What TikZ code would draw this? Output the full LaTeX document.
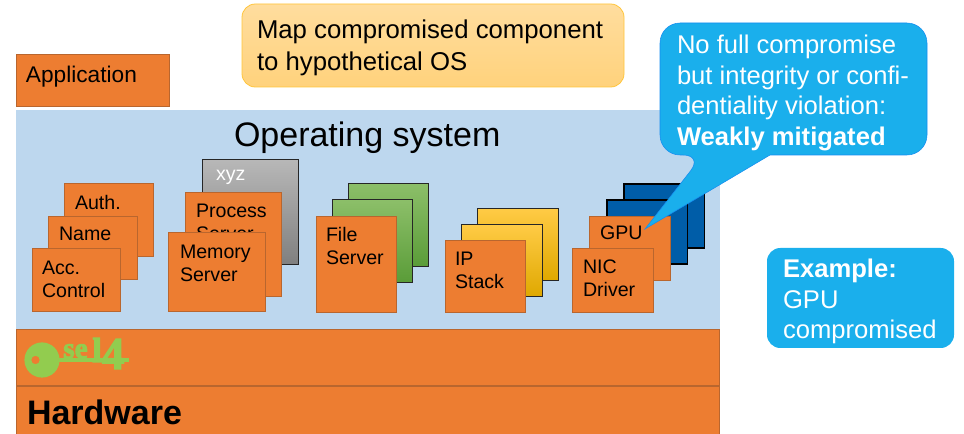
\documentclass[tikz,border=0pt]{standalone}
\usepackage{fontspec}
\setmainfont{Liberation Sans}
\newfontfamily\logofont[BoldFeatures={FakeBold=3}]{Liberation Serif}
\definecolor{orangefill}{HTML}{ED7D31}
\definecolor{orangeline}{HTML}{B9662E}
\definecolor{osblue}{HTML}{BDD7EE}
\definecolor{calloutblue}{HTML}{1AAFEC}
\definecolor{keygreen}{HTML}{92CC4F}
\definecolor{deepblue}{HTML}{005DA8}
\definecolor{goaltop}{HTML}{FFDD9E}
\definecolor{goalbottom}{HTML}{FFD27C}
\definecolor{goalline}{HTML}{FFC53A}
\definecolor{greentop}{HTML}{8CBF69}
\definecolor{greenbottom}{HTML}{5A9C38}
\definecolor{ambertop}{HTML}{FFCB45}
\definecolor{ambermid}{HTML}{FFC000}
\definecolor{amberbottom}{HTML}{DFA800}
\tikzset{
  x=0.75pt,y=-0.75pt,
  box/.style={anchor=north west,inner sep=0pt,outer sep=0pt,line width=1.1pt},
  orangebox/.style={box,fill=orangefill,draw=orangeline},
  xyzbox/.style={box,top color=black!28,bottom color=black!50,draw=black!85},
  greenbox/.style={box,top color=greentop,bottom color=greenbottom,draw=black!85},
  yellowbox/.style={box,top color=ambertop,middle color=ambermid,bottom color=amberbottom,draw=black!85},
  bluebox/.style={box,fill=deepblue,draw=black,line width=1.3pt},
  lbl/.style={anchor=north west,inner sep=0pt,outer sep=0pt,align=left,font=\fontsize{14.7}{17.2}\selectfont},
  whitelbl/.style={lbl,text=white,font=\fontsize{19.2}{22.9}\selectfont},
}
\newcommand{\bx}[6]{\node[#1,minimum width=#5*0.75pt-#3*0.75pt-1pt,minimum height=#6*0.75pt-#4*0.75pt-1pt] (#2) at (#3+0.7,#4+0.7) {};}
\begin{document}
\begin{tikzpicture}
\useasboundingbox (0,0) rectangle (964,434);
\begin{scope}
\clip (0,0) rectangle (964,434);
% top
\node[box,minimum width=286.5pt,minimum height=62.25pt,rounded corners=10pt,top color=goaltop,bottom color=goalbottom,draw=goalline,line width=0.6pt] (goal) at (242,4) {};
\node[lbl,font=\fontsize{19.3}{23.6}\selectfont] (goaltext) at (257,20) {Map compromised component\\to hypothetical OS};
\bx{orangebox}{app}{16}{54}{170}{107}
\node[lbl,font=\fontsize{17}{20}\selectfont] (apptext) at (26,66) {Application};
% os
\node[box,fill=osblue,minimum width=528pt,minimum height=164.25pt] (os) at (16,110) {};
\node[lbl,font=\fontsize{25.5}{30}\selectfont] (ostext) at (234,122) {Operating system};
% left stack
\bx{orangebox}{auth}{64}{183}{154}{257}
\node[lbl] (authtext) at (75,195) {Auth.};
\bx{orangebox}{name}{48}{216}{138}{280}
\node[lbl] (nametext) at (59,227) {Name};
\bx{orangebox}{acc}{32}{248}{121}{312}
\node[lbl] (acctext) at (42,261) {Acc.\\Control};
% process stack
\bx{xyzbox}{xyz}{202}{159}{299}{265}
\node[lbl,text=white] (xyztext) at (216,170) {xyz};
\bx{orangebox}{proc}{185}{192}{282}{297}
\node[lbl] (proctext) at (196,204) {Process\\Server};
\bx{orangebox}{mem}{168}{232}{266}{312}
\node[lbl] (memtext) at (180,245) {Memory\\Server};
% file stack
\bx{greenbox}{fileback}{348}{183}{429}{267}
\bx{greenbox}{filemid}{332}{199}{413}{283}
\bx{orangebox}{file}{316}{216}{397}{313}
\node[lbl] (filetext) at (326,227) {File\\Server};
% IP stack
\bx{yellowbox}{ipback}{477}{208}{559}{281}
\bx{yellowbox}{ipmid}{461}{224}{543}{297}
\bx{orangebox}{ip}{445}{240}{526}{313}
\node[lbl] (iptext) at (455,252) {IP\\Stack};
% driver stack
\bx{bluebox}{drvback}{623}{183}{705}{249}
\bx{bluebox}{drvmid}{606}{199}{688}{265}
\bx{orangebox}{gpu}{589}{216}{671}{281}
\node[lbl] (gputext) at (600,226) {GPU};
\bx{orangebox}{nic}{572}{248}{654}{313}
\node[lbl] (nictext) at (583,260) {NIC\\Driver};
% kernel + hardware
\bx{orangebox}{kernel}{16}{329}{720}{386}
\bx{orangebox}{hw}{16}{386}{720}{445}
\node[lbl,font=\bfseries\fontsize{25.5}{30}\selectfont] (hwtext) at (27,400) {Hardware};
% logo
\fill[keygreen,even odd rule] (42,360) circle (13.2pt) (35.5,360) circle (3.2pt);
\fill[keygreen] (56,358) rectangle (129,362);
\node[anchor=base west,inner sep=0pt,text=keygreen,font=\logofont\bfseries\fontsize{22}{22}\selectfont] (logose) at (63,358) {se};
\node[anchor=base west,inner sep=0pt,text=keygreen,font=\logofont\bfseries\fontsize{34}{34}\selectfont] (logol) at (92,369) {\raisebox{5.25pt}{\fontsize{26}{26}\selectfont l}4};
% callouts
\draw[fill=calloutblue,draw=calloutblue!80!blue,line width=0.4pt] (770,155) [rounded corners=15pt] -- (927,155) -- (927,23) -- (660,23) -- (660,155) -- (703,155) [sharp corners] -- (645,229) -- cycle;
\node[whitelbl] (calltext) at (677,35) {No full compromise\\but integrity or confi-\\dentiality violation:\\\textbf{Weakly mitigated}};
\node[box,fill=calloutblue,minimum width=140.25pt,minimum height=75pt,rounded corners=10pt] (example) at (767,248) {};
\node[whitelbl] (exampletext) at (783,259) {\textbf{Example:}\\GPU\\compromised};
\end{scope}
\end{tikzpicture}
\end{document}
